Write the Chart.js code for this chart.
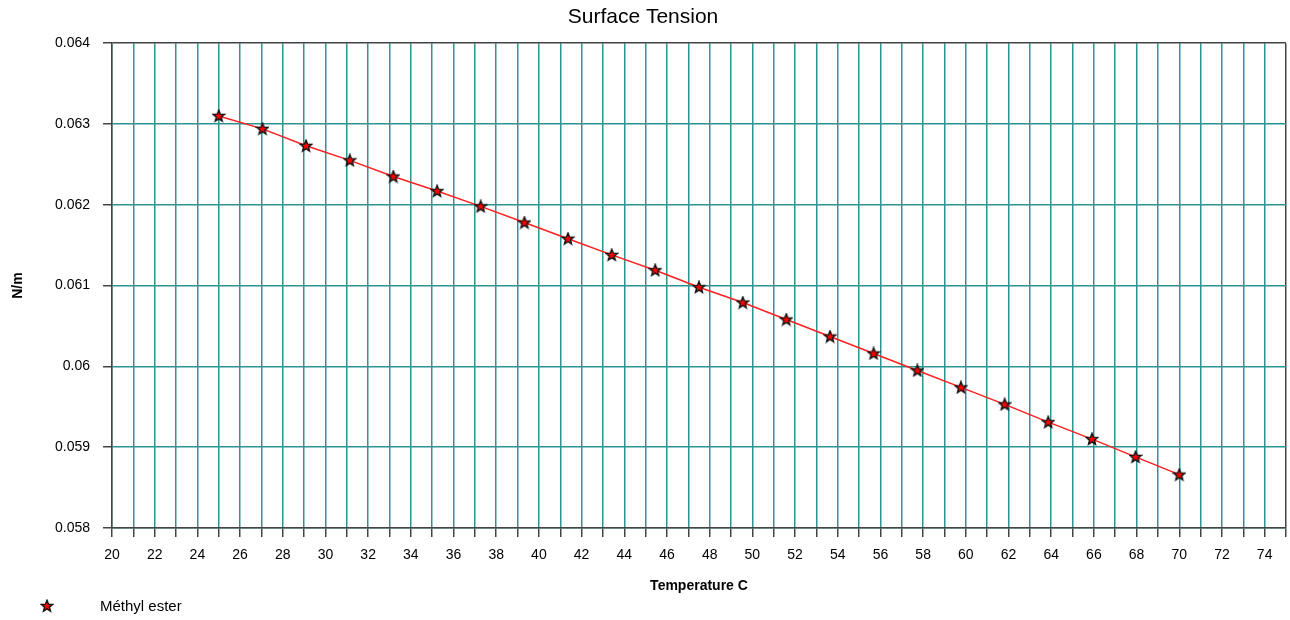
<!DOCTYPE html>
<html>
<head>
<meta charset="utf-8">
<script src="https://cdn.jsdelivr.net/npm/chart.js@4/dist/chart.umd.min.js"></script>
<style>
    html, body { margin: 0; padding: 0; background: #fff; }
    #wrap { width: 1290px; height: 620px; }
</style>
</head>
<body>
<div id="wrap"><canvas id="myChart" width="1290" height="620"></canvas></div>
<script>
// temperature (C) and surface tension (N/m)
const temperature = [25, 27.05, 29.09, 31.14, 33.18, 35.23, 37.27, 39.32, 41.36, 43.41, 45.45, 47.5,
    49.55, 51.59, 53.64, 55.68, 57.73, 59.77, 61.82, 63.86, 65.91, 67.95, 70];
const tension = [0.0631, 0.06294, 0.06273, 0.06255, 0.06235, 0.06217, 0.06198, 0.06178, 0.06158, 0.06138,
    0.06119, 0.06098, 0.06079, 0.06058, 0.06037, 0.06016, 0.05995, 0.05974, 0.05953, 0.05931, 0.0591, 0.05888, 0.05866];
const xTickLabels = ['20', '22', '24', '26', '28', '30', '32', '34', '36', '38', '40', '42', '44', '46',
    '48', '50', '52', '54', '56', '58', '60', '62', '64', '66', '68', '70', '72', '74'];
const yTickLabels = ['0.058', '0.059', '0.06', '0.061', '0.062', '0.063', '0.064'];
const seriesName = 'Méthyl ester';

const FONT = "'Liberation Sans', Arial, sans-serif";
const gridTeal = 'rgb(45,148,148)';
const axisDark = '#444';

// red star with black outline, used as marker
function makeStar()
{
    const c = document.createElement('canvas');
    c.width = 14; c.height = 14;
    const g = c.getContext('2d');
    g.beginPath();
    for (let i = 0; i < 10; i++)
    {
        const r = i % 2 === 0 ? 6 : 2.6;
        const a = -Math.PI / 2 + i * Math.PI / 5;
        const px = 7 + r * Math.cos(a);
        const py = 7.3 + r * Math.sin(a);
        if (i === 0) g.moveTo(px, py); else g.lineTo(px, py);
    }
    g.closePath();
    g.fillStyle = '#ff0000';
    g.fill();
    g.lineWidth = 1.4;
    g.strokeStyle = '#111';
    g.stroke();
    return c;
}
const star = makeStar();

const legendPlugin = {
    id: 'bottomLegend',
    afterDraw(chart)
    {
        const ctx = chart.ctx;
        ctx.save();
        ctx.drawImage(star, 47 - 7, 606 - 7);
        ctx.fillStyle = '#000';
        ctx.font = '15px ' + FONT;
        ctx.textBaseline = 'middle';
        ctx.textAlign = 'left';
        ctx.fillText(seriesName, 100, 607);
        ctx.restore();
    }
};

new Chart(document.getElementById('myChart').getContext('2d'), {
    type: 'line',
    data: {
        datasets: [
            {
                label: seriesName,
                data: temperature.map((t, i) => ({ x: t, y: tension[i] })),
                borderColor: '#ff2020',
                borderWidth: 1.5,
                pointStyle: star,
                pointRadius: 7,
                tension: 0,
            },
        ]
    },
    options: {
        responsive: false,
        animation: false,
        layout: {
            autoPadding: false,
            padding: { top: 0, bottom: 0, left: 0, right: 4 },
        },
        plugins: {
            legend: { display: false },
            tooltip: { enabled: false },
            title: {
                display: true,
                text: 'Surface Tension',
                color: '#000',
                font: { family: FONT, size: 21, weight: 'normal' },
                padding: { top: 5, bottom: 13 },
            },
        },
        scales: {
            x: {
                type: 'linear',
                min: 20,
                max: 75,
                afterFit: (scale) =>
                {
                    scale.height = 92;
                    scale.paddingLeft = 0;
                    scale.paddingRight = 0;
                },
                border: { color: axisDark, width: 1.5 },
                grid: {
                    color: (c) => (c.tick && c.tick.value === 75 ? axisDark : gridTeal),
                    lineWidth: 1.5,
                    tickLength: 9,
                    tickColor: axisDark,
                    tickWidth: 1.5,
                },
                ticks: {
                    stepSize: 1,
                    autoSkip: false,
                    maxRotation: 0,
                    color: '#000',
                    padding: 10,
                    font: { family: FONT, size: 14 },
                    callback: (v) => (xTickLabels.includes(String(v)) ? String(v) : ''),
                },
                title: {
                    display: true,
                    text: 'Temperature C',
                    color: '#000',
                    font: { family: FONT, size: 14, weight: 'bold' },
                    padding: { top: 0, bottom: 25 },
                },
            },
            y: {
                type: 'linear',
                min: 0.058,
                max: 0.064,
                afterFit: (scale) => { scale.width = 112; },
                border: { color: axisDark, width: 1.5 },
                grid: {
                    color: (c) => (c.tick && Math.abs(c.tick.value - 0.064) < 1e-9 ? axisDark : gridTeal),
                    lineWidth: 1.5,
                    tickLength: 9,
                    tickColor: axisDark,
                    tickWidth: 1.5,
                },
                ticks: {
                    stepSize: 0.001,
                    color: '#000',
                    padding: 13,
                    font: { family: FONT, size: 14 },
                    callback: (v) =>
                    {
                        const i = Math.round((v - 0.058) / 0.001);
                        return yTickLabels[i] !== undefined ? yTickLabels[i] : '';
                    },
                },
                title: {
                    display: true,
                    text: 'N/m',
                    color: '#000',
                    font: { family: FONT, size: 14, weight: 'bold' },
                    padding: { top: 10, bottom: 0 },
                },
            },
        },
    },
    plugins: [legendPlugin],
});
</script>
</body>
</html>
